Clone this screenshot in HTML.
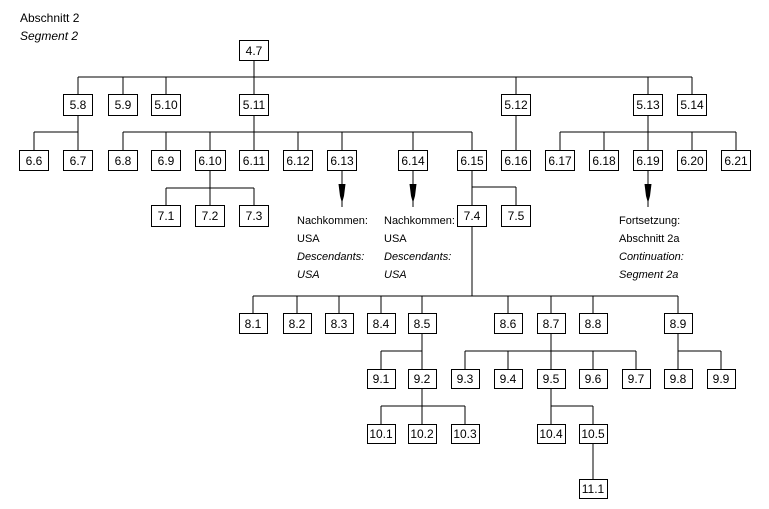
<!DOCTYPE html>
<html><head><meta charset="utf-8"><style>
html,body{margin:0;padding:0;background:#fff;}
svg{display:block;}
text{font-family:"Liberation Sans",sans-serif;font-size:12px;fill:#000;}
.b text{text-anchor:middle;}
.s{font-size:11px;}
</style></head><body>
<svg width="769" height="509" viewBox="0 0 769 509" xmlns="http://www.w3.org/2000/svg">
<g stroke="#000" stroke-width="1" fill="none" shape-rendering="crispEdges">
<line x1="254" y1="60" x2="254" y2="94"/>
<line x1="78" y1="77" x2="692" y2="77"/>
<line x1="78" y1="77" x2="78" y2="94"/><line x1="123" y1="77" x2="123" y2="94"/>
<line x1="166" y1="77" x2="166" y2="94"/><line x1="516" y1="77" x2="516" y2="94"/>
<line x1="648" y1="77" x2="648" y2="94"/><line x1="692" y1="77" x2="692" y2="94"/>
<line x1="78" y1="115" x2="78" y2="150"/><line x1="34" y1="132" x2="78" y2="132"/><line x1="34" y1="132" x2="34" y2="150"/>
<line x1="254" y1="115" x2="254" y2="150"/><line x1="123" y1="132" x2="472" y2="132"/>
<line x1="123" y1="132" x2="123" y2="150"/><line x1="166" y1="132" x2="166" y2="150"/>
<line x1="210" y1="132" x2="210" y2="150"/><line x1="298" y1="132" x2="298" y2="150"/>
<line x1="342" y1="132" x2="342" y2="150"/><line x1="413" y1="132" x2="413" y2="150"/>
<line x1="472" y1="132" x2="472" y2="150"/>
<line x1="516" y1="115" x2="516" y2="150"/>
<line x1="648" y1="115" x2="648" y2="150"/><line x1="560" y1="132" x2="736" y2="132"/>
<line x1="560" y1="132" x2="560" y2="150"/><line x1="604" y1="132" x2="604" y2="150"/>
<line x1="692" y1="132" x2="692" y2="150"/><line x1="736" y1="132" x2="736" y2="150"/>
<line x1="210" y1="170" x2="210" y2="205"/><line x1="166" y1="188" x2="254" y2="188"/>
<line x1="166" y1="188" x2="166" y2="205"/><line x1="254" y1="188" x2="254" y2="205"/>
<line x1="472" y1="170" x2="472" y2="206"/><line x1="472" y1="187" x2="516" y2="187"/><line x1="516" y1="187" x2="516" y2="206"/>
<line x1="342" y1="170" x2="342" y2="207"/><line x1="413" y1="170" x2="413" y2="207"/><line x1="648" y1="170" x2="648" y2="207"/>
<line x1="472" y1="226" x2="472" y2="296"/><line x1="253" y1="296" x2="678" y2="296"/>
<line x1="253" y1="296" x2="253" y2="313"/><line x1="297" y1="296" x2="297" y2="313"/>
<line x1="339" y1="296" x2="339" y2="313"/><line x1="381" y1="296" x2="381" y2="313"/>
<line x1="422" y1="296" x2="422" y2="313"/><line x1="508" y1="296" x2="508" y2="313"/>
<line x1="551" y1="296" x2="551" y2="313"/><line x1="593" y1="296" x2="593" y2="313"/>
<line x1="678" y1="296" x2="678" y2="313"/>
<line x1="422" y1="333" x2="422" y2="369"/><line x1="381" y1="351" x2="422" y2="351"/><line x1="381" y1="351" x2="381" y2="369"/>
<line x1="551" y1="333" x2="551" y2="369"/><line x1="465" y1="351" x2="636" y2="351"/>
<line x1="465" y1="351" x2="465" y2="369"/><line x1="508" y1="351" x2="508" y2="369"/>
<line x1="593" y1="351" x2="593" y2="369"/><line x1="636" y1="351" x2="636" y2="369"/>
<line x1="678" y1="333" x2="678" y2="369"/><line x1="678" y1="351" x2="721" y2="351"/><line x1="721" y1="351" x2="721" y2="369"/>
<line x1="422" y1="388" x2="422" y2="424"/><line x1="381" y1="406" x2="465" y2="406"/>
<line x1="381" y1="406" x2="381" y2="424"/><line x1="465" y1="406" x2="465" y2="424"/>
<line x1="551" y1="388" x2="551" y2="424"/><line x1="551" y1="406" x2="593" y2="406"/><line x1="593" y1="406" x2="593" y2="424"/>
<line x1="593" y1="443" x2="593" y2="479"/>
</g>
<g fill="#000">
<polygon points="338.5,184 345.5,184 344,196 342,203 340,196"/>
<polygon points="409.5,184 416.5,184 415,196 413,203 411,196"/>
<polygon points="644.5,184 651.5,184 650,196 648,203 646,196"/>
</g>
<g class="b" stroke-width="1">
<g fill="#fff" stroke="#000" shape-rendering="crispEdges">
<rect x="239.5" y="40.5" width="29" height="20"/>
<rect x="63.5" y="94.5" width="29" height="21"/><rect x="108.5" y="94.5" width="29" height="21"/>
<rect x="151.5" y="94.5" width="29" height="21"/><rect x="239.5" y="94.5" width="29" height="21"/>
<rect x="501.5" y="94.5" width="29" height="21"/><rect x="633.5" y="94.5" width="29" height="21"/>
<rect x="677.5" y="94.5" width="29" height="21"/>
<rect x="19.5" y="150.5" width="29" height="20"/><rect x="63.5" y="150.5" width="29" height="20"/>
<rect x="108.5" y="150.5" width="29" height="20"/><rect x="151.5" y="150.5" width="29" height="20"/>
<rect x="195.5" y="150.5" width="30" height="20"/><rect x="239.5" y="150.5" width="29" height="20"/>
<rect x="283.5" y="150.5" width="29" height="20"/><rect x="327.5" y="150.5" width="29" height="20"/>
<rect x="398.5" y="150.5" width="29" height="20"/><rect x="457.5" y="150.5" width="29" height="20"/>
<rect x="501.5" y="150.5" width="29" height="20"/><rect x="545.5" y="150.5" width="29" height="20"/>
<rect x="589.5" y="150.5" width="29" height="20"/><rect x="633.5" y="150.5" width="29" height="20"/>
<rect x="677.5" y="150.5" width="29" height="20"/><rect x="721.5" y="150.5" width="29" height="20"/>
<rect x="151.5" y="205.5" width="29" height="21"/><rect x="195.5" y="205.5" width="29" height="21"/>
<rect x="239.5" y="205.5" width="29" height="21"/>
<rect x="457.5" y="205.5" width="29" height="21"/><rect x="501.5" y="205.5" width="29" height="21"/>
<rect x="239.5" y="313.5" width="28" height="20"/><rect x="283.5" y="313.5" width="28" height="20"/>
<rect x="325.5" y="313.5" width="28" height="20"/><rect x="367.5" y="313.5" width="28" height="20"/>
<rect x="408.5" y="313.5" width="28" height="20"/><rect x="494.5" y="313.5" width="28" height="20"/>
<rect x="537.5" y="313.5" width="28" height="20"/><rect x="579.5" y="313.5" width="28" height="20"/>
<rect x="664.5" y="313.5" width="28" height="20"/>
<rect x="367.5" y="369.5" width="28" height="19"/><rect x="408.5" y="369.5" width="28" height="19"/>
<rect x="451.5" y="369.5" width="28" height="19"/><rect x="494.5" y="369.5" width="28" height="19"/>
<rect x="537.5" y="369.5" width="28" height="19"/><rect x="579.5" y="369.5" width="28" height="19"/>
<rect x="622.5" y="369.5" width="28" height="19"/><rect x="664.5" y="369.5" width="28" height="19"/>
<rect x="707.5" y="369.5" width="28" height="19"/>
<rect x="367.5" y="424.5" width="28" height="19"/><rect x="408.5" y="424.5" width="28" height="19"/>
<rect x="451.5" y="424.5" width="28" height="19"/><rect x="537.5" y="424.5" width="28" height="19"/>
<rect x="579.5" y="424.5" width="28" height="19"/>
<rect x="579.5" y="479.5" width="28" height="19"/>
</g>
<text x="254" y="55">4.7</text>
<text x="78" y="109">5.8</text><text x="123" y="109">5.9</text><text x="166" y="109">5.10</text>
<text x="254" y="109">5.11</text><text x="516" y="109">5.12</text><text x="648" y="109">5.13</text><text x="692" y="109">5.14</text>
<text x="34" y="165">6.6</text><text x="78" y="165">6.7</text><text x="123" y="165">6.8</text><text x="166" y="165">6.9</text>
<text x="210" y="165">6.10</text><text x="254" y="165">6.11</text><text x="298" y="165">6.12</text><text x="342" y="165">6.13</text>
<text x="413" y="165">6.14</text><text x="472" y="165">6.15</text><text x="516" y="165">6.16</text><text x="560" y="165">6.17</text>
<text x="604" y="165">6.18</text><text x="648" y="165">6.19</text><text x="692" y="165">6.20</text><text x="736" y="165">6.21</text>
<text x="166" y="220">7.1</text><text x="210" y="220">7.2</text><text x="254" y="220">7.3</text>
<text x="472" y="220">7.4</text><text x="516" y="220">7.5</text>
<text x="253" y="328">8.1</text><text x="297" y="328">8.2</text><text x="339" y="328">8.3</text><text x="381" y="328">8.4</text>
<text x="422" y="328">8.5</text><text x="508" y="328">8.6</text><text x="551" y="328">8.7</text><text x="593" y="328">8.8</text>
<text x="678" y="328">8.9</text>
<text x="381" y="383">9.1</text><text x="422" y="383">9.2</text><text x="465" y="383">9.3</text><text x="508" y="383">9.4</text>
<text x="551" y="383">9.5</text><text x="593" y="383">9.6</text><text x="636" y="383">9.7</text><text x="678" y="383">9.8</text>
<text x="721" y="383">9.9</text>
<text x="381" y="438">10.1</text><text x="422" y="438">10.2</text><text x="465" y="438">10.3</text>
<text x="551" y="438">10.4</text><text x="593" y="438">10.5</text>
<text x="593" y="493">11.1</text>
</g>
<text x="20" y="22">Abschnitt 2</text>
<text x="20" y="40" font-style="italic">Segment 2</text>
<g class="s">
<text class="s" x="297" y="224">Nachkommen:</text><text class="s" x="297" y="242">USA</text>
<text class="s" x="297" y="260" font-style="italic">Descendants:</text><text class="s" x="297" y="278" font-style="italic">USA</text>
<text class="s" x="384" y="224">Nachkommen:</text><text class="s" x="384" y="242">USA</text>
<text class="s" x="384" y="260" font-style="italic">Descendants:</text><text class="s" x="384" y="278" font-style="italic">USA</text>
<text class="s" x="619" y="224">Fortsetzung:</text><text class="s" x="619" y="242">Abschnitt 2a</text>
<text class="s" x="619" y="260" font-style="italic">Continuation:</text><text class="s" x="619" y="278" font-style="italic">Segment 2a</text>
</g>
</svg>
</body></html>
